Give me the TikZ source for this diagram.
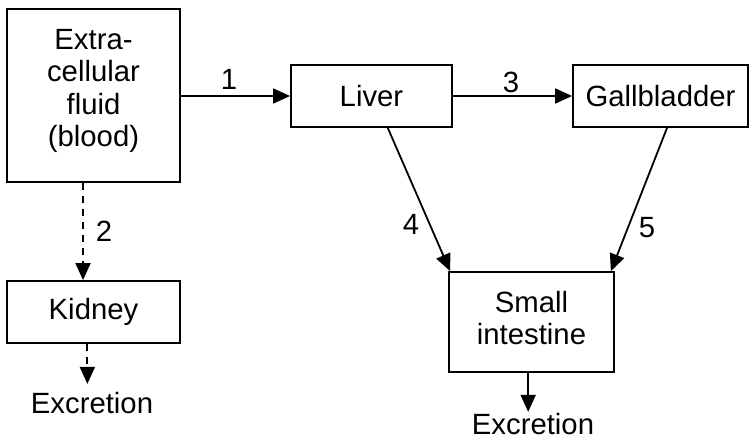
\documentclass[tikz,border=0pt]{standalone}
\usepackage{fontspec}
\setmainfont{Liberation Sans}
\usetikzlibrary{arrows.meta,calc}
\begin{document}
\begin{tikzpicture}[x=1pt,y=-1pt,
  font=\fontsize{29.3}{32.5}\selectfont,
  box/.style={draw, line width=1.8pt, inner sep=0pt, align=center},
  txt/.style={inner sep=0pt, align=center},
  arr/.style={-{Triangle[length=17pt,width=15pt]}, line width=1.8pt},
  dsh/.style={arr, dash pattern=on 7pt off 6pt},
  lbl/.style={anchor=base, inner sep=0pt}]
\useasboundingbox (0,0) rectangle (756,439);
% boxes
\node[box, minimum width=173pt, minimum height=173pt] (ecf) at (93.5,95.5) {};
\node[txt] (ecft) at (93.5,91) {Extra-\\cellular\\fluid\\(blood)};
\node[box, minimum width=161pt, minimum height=62pt] (liver) at (371.5,96) {Liver};
\node[box, minimum width=175pt, minimum height=62pt] (gb) at (660.5,96) {Gallbladder};
\node[box, minimum width=173pt, minimum height=62pt] (kid) at (93.5,312) {Kidney};
\node[box, minimum width=165pt, minimum height=100pt] (si) at (531.5,322) {};
\node[txt] (sit) at (531.5,318) {Small\\intestine};
% excretion texts
\node[lbl] (ex1) at (92,413) {Excretion};
\node[lbl] (ex2) at (533,434) {Excretion};
% arrows
\draw[arr] (ecf.east |- liver.west) -- (liver.west);
\draw[arr] (liver.east) -- (gb.west);
\draw[dsh] ($(ecf.south west)!0.44!(ecf.south east)$) -- ($(kid.north west)!0.44!(kid.north east)$);
\draw[dsh] ($(kid.south west)!0.465!(kid.south east)$) -- ($(kid.south west)!0.465!(kid.south east)+(0,40)$);
\draw[arr] ($(liver.south west)!0.6!(liver.south east)$) -- ($(si.north west)+(2,0)$);
\draw[arr] ($(gb.south west)!0.537!(gb.south east)$) -- ($(si.north east)+(-4,0)$);
\draw[arr] ($(si.south west)!0.48!(si.south east)$) -- ($(si.south west)!0.48!(si.south east)+(0,39)$);
% labels
\node[lbl] (l1) at (229,89) {1};
\node[lbl] (l2) at (104,241) {2};
\node[lbl] (l3) at (511,92) {3};
\node[lbl] (l4) at (411,234) {4};
\node[lbl] (l5) at (647,237) {5};
\end{tikzpicture}
\end{document}
